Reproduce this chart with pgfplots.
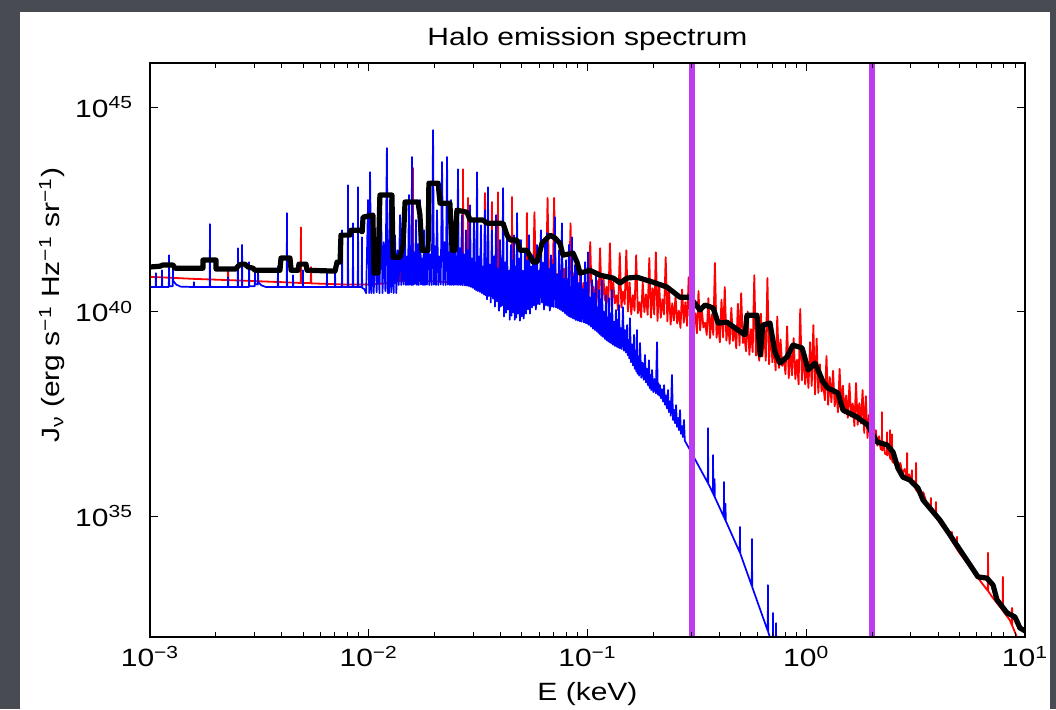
\documentclass[border=0pt]{standalone}
\usepackage{fontspec}
\setmainfont[FakeStretch=1.2]{Liberation Sans}
\usepackage{pgfplots}
\pgfplotsset{compat=1.18}
\definecolor{slide}{RGB}{72,75,82}
\definecolor{band}{RGB}{190,60,240}
\newcommand\lbl{\fontsize{12.5}{15}\selectfont}
\begin{document}
\begin{tikzpicture}
\fill[slide] (0,0) rectangle (528pt,354.5pt);
\fill[white] (10pt,0) rectangle (525pt,348.5pt);
\begin{axis}[
  at={(75pt,36pt)}, anchor=south west,
  width=437.5pt, height=287pt, scale only axis,
  xmin=-3, xmax=1, ymin=32.04, ymax=46.08,
  xtick={-3,-2,-1,0,1},
  xticklabels={10\textsuperscript{−3},10\textsuperscript{−2},10\textsuperscript{−1},10\textsuperscript{0},10\textsuperscript{1}},
  minor xtick={-2.699,-2.5229,-2.3979,-2.301,-2.2218,-2.1549,-2.0969,-2.0458,
    -1.699,-1.5229,-1.3979,-1.301,-1.2218,-1.1549,-1.0969,-1.0458,
    -0.699,-0.5229,-0.3979,-0.301,-0.2218,-0.1549,-0.0969,-0.0458,
    0.301,0.4771,0.6021,0.699,0.7782,0.8451,0.9031,0.9542},
  ytick={35,40,45},
  yticklabels={10\textsuperscript{35},10\textsuperscript{40},10\textsuperscript{45}},
  tick align=inside, major tick length=4pt, minor tick length=2.5pt,
  every tick/.style={black, line width=0.4pt},
  axis line style={line width=0.6pt},
  tick label style={font=\lbl},
  yticklabel style={xshift=-5pt},
  xticklabel style={yshift=-1pt},
  title={Halo emission spectrum},
  title style={font=\lbl, at={(axis description cs:0.5,1)}, anchor=base, yshift=2.5pt},
  xlabel={E (keV)},
  xlabel style={font=\lbl, at={(axis description cs:0.5,0)}, anchor=base, yshift=-31.5pt},
  ylabel={J\textsubscript{ν} (erg s\textsuperscript{−1} Hz\textsuperscript{−1} sr\textsuperscript{−1})},
  ylabel style={font=\lbl, at={(axis description cs:-0.112,0.578)}, anchor=center},
  axis on top, clip=true,
]
% hot gas (red)
\addplot[red, line width=0.9pt, line join=round] coordinates {
(-3.000,40.85) (-2.800,40.80) (-2.644,40.77) (-2.643,40.98) (-2.642,40.77) (-2.400,40.72)
(-2.311,40.70) (-2.310,42.06) (-2.309,40.70) (-2.265,40.70) (-2.264,41.09) (-2.263,40.69)
(-2.100,40.66) (-2.000,40.66) (-1.900,40.70) (-1.858,40.75) (-1.857,42.06) (-1.856,40.75)
(-1.799,40.75) (-1.798,43.51) (-1.797,40.75) (-1.700,40.74) (-1.570,40.70) (-1.569,43.48)
(-1.568,40.70) (-1.547,40.68) (-1.546,42.78) (-1.545,40.68) (-1.470,40.60) (-1.469,42.90)
(-1.468,40.60) (-1.438,40.55) (-1.437,42.68) (-1.436,40.55) (-1.410,40.52) (-1.409,42.92)
(-1.408,40.52) (-1.346,40.48) (-1.345,42.80) (-1.344,40.48) (-1.278,40.45) (-1.277,42.41)
(-1.276,40.45)
(-1.2500,40.43) (-1.2425,42.43) (-1.2350,40.52) (-1.2275,40.74) (-1.2200,40.36) (-1.2125,41.18)
(-1.2050,40.45) (-1.1975,40.84) (-1.1900,40.54) (-1.1825,42.78) (-1.1750,40.38) (-1.1675,41.06)
(-1.1600,40.32) (-1.1525,42.78) (-1.1450,40.43) (-1.1375,40.92) (-1.1300,40.38) (-1.1225,40.62)
(-1.1150,40.29) (-1.1075,41.05) (-1.1000,40.43) (-1.0925,40.80) (-1.0850,40.37) (-1.0775,42.16)
(-1.0700,40.30) (-1.0625,40.94) (-1.0550,40.39) (-1.0475,40.60) (-1.0400,40.23) (-1.0325,41.03)
(-1.0250,40.32) (-1.0175,40.70) (-1.0100,40.41) (-1.0025,40.45) (-0.9950,40.25) (-0.9875,41.70)
(-0.9800,40.18) (-0.9725,40.61) (-0.9650,40.29) (-0.9575,40.76) (-0.9500,40.23) (-0.9425,41.55)
(-0.9350,40.14) (-0.9275,40.86) (-0.9200,40.27) (-0.9125,40.61) (-0.9050,40.20) (-0.8975,41.67)
(-0.8900,40.13) (-0.8825,40.73) (-0.8750,40.20) (-0.8675,40.40) (-0.8600,40.03) (-0.8525,41.43)
(-0.8450,40.10) (-0.8375,40.49) (-0.8300,40.18) (-0.8225,41.50) (-0.8150,40.00) (-0.8075,40.71)
(-0.8000,39.93) (-0.7925,40.40) (-0.7850,40.02) (-0.7775,41.38) (-0.7700,39.96) (-0.7625,40.23)
(-0.7550,39.86) (-0.7475,40.71) (-0.7400,39.99) (-0.7325,40.42) (-0.7250,39.92) (-0.7175,41.31)
(-0.7100,39.85) (-0.7025,40.57) (-0.6950,39.93) (-0.6875,41.45) (-0.6800,39.77) (-0.6725,40.68)
(-0.6650,39.85) (-0.6575,40.30) (-0.6500,39.93) (-0.6425,41.33) (-0.6350,39.76) (-0.6275,40.56)
(-0.6200,39.68) (-0.6125,40.20) (-0.6050,39.78) (-0.5975,40.38) (-0.5900,39.71) (-0.5825,40.02)
(-0.5750,39.60) (-0.5675,40.54) (-0.5600,39.73) (-0.5525,40.23) (-0.5450,39.65) (-0.5375,40.84)
(-0.5300,39.57) (-0.5225,40.40) (-0.5150,39.65) (-0.5075,39.96) (-0.5000,39.47) (-0.4925,40.50)
(-0.4850,39.54) (-0.4775,40.06) (-0.4700,39.61) (-0.4625,39.73) (-0.4550,39.43) (-0.4475,40.33)
(-0.4400,39.35) (-0.4325,39.93) (-0.4250,39.43) (-0.4175,41.19) (-0.4100,39.36) (-0.4025,39.72)
(-0.3950,39.25) (-0.3875,40.29) (-0.3800,39.37) (-0.3725,40.60) (-0.3650,39.29) (-0.3575,39.74)
(-0.3500,39.21) (-0.3425,40.09) (-0.3350,39.28) (-0.3275,39.62) (-0.3200,39.10) (-0.3125,40.19)
(-0.3050,39.17) (-0.2975,40.45) (-0.2900,39.23) (-0.2825,39.36) (-0.2750,39.03) (-0.2675,40.00)
(-0.2600,38.94) (-0.2525,39.57) (-0.2450,39.01) (-0.2375,40.89) (-0.2300,38.92) (-0.2225,39.32)
(-0.2150,38.80) (-0.2075,39.95) (-0.2000,38.90) (-0.1925,39.55) (-0.1850,38.80) (-0.1775,40.82)
(-0.1700,38.71) (-0.1625,39.74) (-0.1550,38.76) (-0.1475,39.20) (-0.1400,38.56) (-0.1325,39.88)
(-0.1250,38.62) (-0.1175,39.32) (-0.1100,38.67) (-0.1025,38.88) (-0.0950,38.47) (-0.0875,39.64)
(-0.0800,38.37) (-0.0725,39.12) (-0.0650,38.44) (-0.0575,39.35) (-0.0500,38.35) (-0.0425,38.82)
(-0.0350,38.22) (-0.0275,40.06) (-0.0200,38.32) (-0.0125,39.07) (-0.0050,38.22) (0.0025,38.82)
(0.0100,38.13) (0.0175,39.25) (0.0250,38.18) (0.0325,39.67) (0.0400,37.97) (0.0475,39.34)
(0.0550,38.01) (0.0625,38.71) (0.0700,38.05) (0.0775,38.24) (0.0850,37.83) (0.0925,38.91)
(0.1000,37.72) (0.1075,38.40) (0.1150,37.78) (0.1225,38.55) (0.1300,37.68) (0.1375,38.06)
(0.1450,37.54) (0.1525,38.60) (0.1600,37.62) (0.1675,38.19) (0.1750,37.51) (0.1825,37.95)
(0.1900,37.40) (0.1975,38.24) (0.2050,37.43) (0.2125,37.75) (0.2200,37.20) (0.2275,38.25)
(0.2350,37.23) (0.2425,37.76) (0.2500,37.26) (0.2575,38.08) (0.2650,37.03) (0.2725,37.93)
(0.2800,36.91) (0.2875,37.48) (0.2950,36.96)
(0.300,36.81) (0.305,37.05) (0.310,36.80) (0.318,37.10) (0.325,36.72) (0.333,36.95)
(0.340,36.64) (0.346,36.62) (0.346,37.54) (0.347,36.60) (0.355,36.75) (0.360,36.52)
(0.369,36.50) (0.369,37.05) (0.370,36.48) (0.376,36.65) (0.383,36.42) (0.383,37.10)
(0.384,36.40) (0.392,36.38) (0.392,37.00) (0.393,36.34) (0.400,36.30) (0.410,36.42)
(0.420,36.17) (0.430,36.30) (0.440,36.04) (0.450,36.15) (0.460,35.92) (0.461,36.54)
(0.462,35.90) (0.470,36.02) (0.482,35.78) (0.483,36.12) (0.484,35.76) (0.494,35.85)
(0.501,35.64) (0.502,36.30) (0.503,35.63) (0.520,35.52) (0.535,35.58) (0.550,35.32)
(0.569,35.17) (0.570,35.44) (0.571,35.15) (0.592,34.98) (0.593,35.34) (0.594,34.96)
(0.620,34.75) (0.640,34.65) (0.665,34.39) (0.666,34.61) (0.667,34.38) (0.688,34.20)
(0.689,34.49) (0.690,34.18) (0.700,34.10) (0.750,33.74) (0.800,33.38) (0.830,33.17)
(0.831,34.10) (0.832,33.16) (0.850,33.02) (0.898,32.69) (0.899,33.51) (0.900,32.67)
(0.930,32.46) (0.940,32.33) (0.941,32.75) (0.942,32.31) (0.963,32.04) (1.000,31.60)
};
% cool gas (blue)
\addplot[blue, line width=0.85pt, line join=round] coordinates {
(-3.000,40.60) (-2.974,40.60) (-2.973,40.94) (-2.972,40.60) (-2.946,40.60) (-2.945,41.01)
(-2.944,40.60) (-2.914,40.60) (-2.913,41.38) (-2.912,40.62) (-2.896,40.62) (-2.895,41.11)
(-2.894,40.75) (-2.880,40.66) (-2.860,40.61) (-2.800,40.60) (-2.799,40.72) (-2.798,40.60)
(-2.727,40.60) (-2.726,42.14) (-2.725,40.60) (-2.644,40.60) (-2.643,40.84) (-2.642,40.60)
(-2.599,40.60) (-2.598,41.55) (-2.597,40.60) (-2.580,40.60) (-2.579,41.63) (-2.578,40.60)
(-2.548,40.60) (-2.547,41.21) (-2.546,40.62) (-2.521,40.62) (-2.520,40.97) (-2.519,40.68)
(-2.507,40.66) (-2.506,41.01) (-2.505,40.72) (-2.490,40.64) (-2.470,40.60) (-2.416,40.60)
(-2.415,41.11) (-2.414,40.60) (-2.375,40.60) (-2.374,42.41) (-2.373,40.60) (-2.347,40.60)
(-2.346,40.89) (-2.345,40.60) (-2.302,40.60) (-2.301,41.01) (-2.300,40.60) (-2.192,40.60)
(-2.191,40.94) (-2.190,40.60) (-2.155,40.60) (-2.154,41.01) (-2.153,40.60) (-2.123,40.60)
(-2.122,41.99) (-2.121,40.60) (-2.096,40.60) (-2.095,43.09) (-2.094,40.60) (-2.073,40.60)
(-2.072,42.16) (-2.071,40.60) (-2.050,40.60) (-2.049,43.04) (-2.048,40.60) (-2.032,40.60)
(-2.031,41.82) (-2.030,40.58) (-2.020,40.55) (-2.012,40.45)
(-2.003,42.73) (-1.998,40.45) (-1.994,43.41) (-1.988,40.45) (-1.983,41.60) (-1.977,40.45)
(-1.971,41.99) (-1.964,40.47) (-1.958,41.45) (-1.951,40.45) (-1.944,42.48) (-1.937,40.45)
(-1.931,41.70) (-1.924,40.50) (-1.917,44.00) (-1.913,40.45) (-1.910,41.40) (-1.907,40.45)
(-1.903,42.73) (-1.897,40.47) (-1.892,41.75) (-1.886,40.45) (-1.880,41.87) (-1.874,40.45)
(-1.869,41.50) (-1.863,40.65) (-1.857,42.36) (-1.851,40.65) (-1.846,41.55) (-1.840,40.66)
(-1.834,41.75) (-1.830,40.65) (-1.825,41.35) (-1.821,40.65) (-1.816,42.85) (-1.813,40.66)
(-1.809,41.60) (-1.806,40.65) (-1.802,43.78) (-1.798,40.65) (-1.793,41.45) (-1.789,40.67)
(-1.784,42.24) (-1.780,40.65) (-1.775,41.65) (-1.771,40.65) (-1.766,42.73) (-1.761,40.66)
(-1.757,41.30) (-1.752,40.65) (-1.747,41.99) (-1.743,40.65) (-1.738,41.55) (-1.734,40.66)
(-1.729,42.60) (-1.723,40.65) (-1.718,41.40) (-1.712,40.65) (-1.706,44.44) (-1.702,40.66)
(-1.697,41.60) (-1.693,40.65) (-1.688,42.48) (-1.682,40.65) (-1.677,41.35) (-1.671,40.66)
(-1.665,43.66) (-1.659,40.65) (-1.654,41.70) (-1.648,40.65) (-1.642,43.78) (-1.638,40.66)
(-1.633,41.45) (-1.629,40.65) (-1.624,42.73) (-1.620,40.65) (-1.615,41.60) (-1.611,40.65)
(-1.606,42.11) (-1.603,40.66) (-1.599,41.30) (-1.596,40.65) (-1.592,43.48) (-1.588,40.65)
(-1.583,41.55) (-1.579,40.65) (-1.574,42.36) (-1.570,40.64) (-1.565,41.40) (-1.560,40.64)
(-1.555,41.99) (-1.551,40.63) (-1.546,41.50) (-1.542,40.62) (-1.537,42.60) (-1.533,40.60)
(-1.528,41.30) (-1.524,40.58) (-1.519,42.24) (-1.516,40.55) (-1.512,41.20) (-1.509,40.52)
(-1.505,43.41) (-1.501,40.50) (-1.496,41.35) (-1.492,40.48) (-1.487,42.11) (-1.483,40.45)
(-1.478,41.10) (-1.474,40.42) (-1.469,42.48) (-1.466,40.40) (-1.462,41.30) (-1.459,40.30)
(-1.455,43.04) (-1.451,40.38) (-1.446,41.15) (-1.442,40.22) (-1.437,41.99) (-1.432,40.32)
(-1.428,41.35) (-1.423,40.12) (-1.418,42.36) (-1.414,40.25) (-1.409,41.05) (-1.405,40.02)
(-1.400,41.75) (-1.397,40.12) (-1.393,41.30) (-1.390,40.15) (-1.386,43.02) (-1.382,39.88)
(-1.377,41.20) (-1.373,39.97) (-1.368,41.99) (-1.364,40.05) (-1.359,41.00) (-1.355,39.80)
(-1.350,41.63) (-1.347,39.90) (-1.343,41.25) (-1.340,39.98) (-1.336,41.87) (-1.333,39.80)
(-1.329,41.10) (-1.326,39.85) (-1.322,42.41) (-1.318,39.95) (-1.313,41.30) (-1.309,39.78)
(-1.304,41.75) (-1.300,39.88) (-1.295,41.00) (-1.291,39.83) (-1.286,41.50) (-1.281,39.95)
(-1.277,41.25) (-1.272,40.05) (-1.267,41.87) (-1.263,39.95) (-1.258,41.10) (-1.254,40.10)
(-1.249,41.38) (-1.245,40.15) (-1.240,41.30) (-1.236,40.05) (-1.231,41.63) (-1.227,40.18)
(-1.222,41.00) (-1.218,40.18) (-1.213,41.99) (-1.208,40.22) (-1.204,41.20) (-1.199,40.05)
(-1.194,41.75) (-1.190,40.15) (-1.185,41.92) (-1.181,40.14) (-1.176,41.05) (-1.172,40.02)
(-1.167,41.38) (-1.163,40.12) (-1.158,41.15) (-1.154,40.11) (-1.149,42.31) (-1.144,40.10)
(-1.140,40.90) (-1.135,40.08) (-1.130,41.50) (-1.127,40.06) (-1.124,41.00) (-1.120,40.03)
(-1.117,42.16) (-1.112,40.00) (-1.108,40.80) (-1.103,39.96) (-1.098,41.26) (-1.095,39.92)
(-1.092,40.75) (-1.088,39.90) (-1.085,41.63) (-1.082,39.88) (-1.078,40.60) (-1.075,39.86)
(-1.071,41.82) (-1.068,39.84) (-1.064,40.85) (-1.061,39.82) (-1.057,41.14) (-1.053,39.79)
(-1.048,41.26) (-1.044,39.78) (-1.039,40.70) (-1.035,39.76) (-1.030,41.01) (-1.026,39.75)
(-1.021,40.55) (-1.016,39.73) (-1.011,41.21) (-1.008,39.72) (-1.005,40.70) (-1.001,39.70)
(-0.998,41.45) (-0.993,39.67) (-0.989,40.35) (-0.984,39.63) (-0.979,40.77) (-0.975,39.58)
(-0.970,40.45) (-0.966,39.55) (-0.961,40.89) (-0.958,39.52) (-0.954,40.10) (-0.951,39.48)
(-0.947,40.53) (-0.944,39.45) (-0.941,40.30) (-0.937,39.41) (-0.934,40.77) (-0.929,39.38)
(-0.925,40.00) (-0.920,39.33) (-0.915,40.40) (-0.912,39.30) (-0.909,39.85) (-0.905,39.27)
(-0.902,40.33) (-0.899,39.25) (-0.895,39.95) (-0.892,39.22) (-0.888,40.53) (-0.884,39.19)
(-0.879,39.75) (-0.875,39.16) (-0.870,40.04) (-0.867,39.14) (-0.863,39.80) (-0.860,39.12)
(-0.856,40.16) (-0.852,39.10) (-0.847,39.60) (-0.843,39.08) (-0.838,40.11) (-0.833,39.04)
(-0.829,39.55) (-0.824,39.00) (-0.819,39.67) (-0.816,38.93) (-0.813,39.30) (-0.809,38.85)
(-0.806,39.84) (-0.801,38.76) (-0.797,39.20) (-0.792,38.68) (-0.787,39.43) (-0.784,38.60)
(-0.781,39.05) (-0.777,38.54) (-0.774,39.55) (-0.771,38.48) (-0.767,38.90) (-0.764,38.43)
(-0.760,39.23) (-0.754,38.38) (-0.749,38.75) (-0.743,38.33) (-0.737,38.94) (-0.733,38.27)
(-0.728,38.60) (-0.724,38.20) (-0.719,38.81) (-0.716,38.13) (-0.712,38.45) (-0.709,38.08)
(-0.705,38.57) (-0.699,38.03) (-0.694,38.35) (-0.688,38.00) (-0.682,39.25) (-0.679,37.97)
(-0.676,38.25) (-0.672,37.94) (-0.669,38.20) (-0.664,37.88) (-0.660,38.10) (-0.655,37.80)
(-0.650,38.20) (-0.646,37.72) (-0.641,37.95) (-0.637,37.63) (-0.632,38.08) (-0.628,37.54)
(-0.623,37.80) (-0.619,37.45) (-0.614,38.45) (-0.609,37.35) (-0.605,37.60) (-0.600,37.27)
(-0.595,37.71) (-0.591,37.18) (-0.586,37.40) (-0.582,37.10) (-0.577,37.59) (-0.573,37.01)
(-0.568,37.20) (-0.564,36.93) (-0.559,37.35) (-0.555,36.84)
(-0.531,36.61) (-0.522,36.52) (-0.450,35.81) (-0.449,37.15) (-0.448,35.79) (-0.440,35.71)
(-0.427,35.56) (-0.426,36.49) (-0.425,35.54) (-0.420,35.48) (-0.419,35.90) (-0.418,35.46)
(-0.377,34.98) (-0.376,35.83) (-0.375,34.96) (-0.370,34.90) (-0.369,35.30) (-0.368,34.88)
(-0.304,34.11) (-0.303,34.73) (-0.302,34.09) (-0.249,33.29) (-0.248,34.44) (-0.247,33.26)
(-0.176,32.19) (-0.175,33.31) (-0.174,32.16) (-0.153,31.84) (-0.152,32.63) (-0.151,31.82)
(-0.139,31.64) (-0.138,32.38) (-0.137,31.60) (-0.120,31.35)
};
% binned total (black)
\addplot[black, line width=2.6pt, line join=round] coordinates {
(-3.000,41.09) (-2.954,41.11) (-2.941,41.14) (-2.895,41.14) (-2.886,41.06) (-2.758,41.06)
(-2.758,41.26) (-2.698,41.26) (-2.698,41.04) (-2.607,41.04) (-2.598,41.11) (-2.584,41.16)
(-2.566,41.16) (-2.552,41.09) (-2.529,41.06) (-2.520,41.01) (-2.406,41.01) (-2.401,41.31)
(-2.360,41.31) (-2.355,41.01) (-2.323,41.01) (-2.319,41.16) (-2.287,41.16) (-2.282,41.01)
(-2.154,40.99) (-2.145,41.21) (-2.131,41.21) (-2.127,41.87) (-2.086,41.87) (-2.081,41.99)
(-2.040,41.99) (-2.030,41.95) (-2.026,42.31) (-1.981,42.36) (-1.976,40.94) (-1.958,40.94)
(-1.949,42.85) (-1.894,42.85) (-1.889,41.33) (-1.857,41.33) (-1.843,41.63) (-1.834,42.68)
(-1.775,42.68) (-1.766,42.36) (-1.757,41.50) (-1.729,41.50) (-1.725,43.14) (-1.683,43.14)
(-1.674,42.65) (-1.629,42.65) (-1.619,41.50) (-1.606,41.50) (-1.597,42.48) (-1.551,42.43)
(-1.537,42.24) (-1.478,42.24) (-1.459,42.16) (-1.386,42.16) (-1.368,41.87) (-1.354,41.75)
(-1.322,41.75) (-1.309,41.50) (-1.277,41.50) (-1.249,41.21) (-1.231,41.21) (-1.208,41.67)
(-1.171,41.87) (-1.149,41.80) (-1.126,41.67) (-1.112,41.38) (-1.066,41.43) (-1.048,41.21)
(-1.034,40.94) (-0.989,41.01) (-0.943,40.89) (-0.883,40.82) (-0.851,40.70) (-0.819,40.82)
(-0.774,40.84) (-0.701,40.72) (-0.637,40.60) (-0.577,40.35) (-0.531,40.35) (-0.486,40.04)
(-0.463,40.16) (-0.426,40.09) (-0.403,39.72) (-0.362,39.74) (-0.326,39.60) (-0.280,39.43)
(-0.271,39.91) (-0.225,39.91) (-0.211,38.94) (-0.198,39.67) (-0.166,39.72) (-0.143,39.01)
(-0.120,38.74) (-0.088,38.89) (-0.061,39.18) (-0.019,39.11) (0.009,38.57) (0.040,38.74)
(0.077,38.28) (0.099,38.13) (0.145,38.01) (0.168,37.59) (0.232,37.42) (0.282,37.22)
(0.323,36.81) (0.369,36.74) (0.397,36.56) (0.419,36.17) (0.442,35.95) (0.474,35.88)
(0.511,35.68) (0.534,35.39) (0.611,34.90) (0.703,34.17) (0.785,33.51) (0.826,33.48)
(0.854,33.31) (0.872,32.95) (0.918,32.63) (0.954,32.53) (0.977,32.26) (1.000,32.19)
};
% band edges: 0.3 keV and 2 keV
\addplot[band, line width=3pt] coordinates {(-0.523,31) (-0.523,47)};
\addplot[band, line width=3pt] coordinates {(0.301,31) (0.301,47)};
\end{axis}
\pgfresetboundingbox
\path[use as bounding box] (0,0) rectangle (528pt,354.5pt);
\end{tikzpicture}
\end{document}
